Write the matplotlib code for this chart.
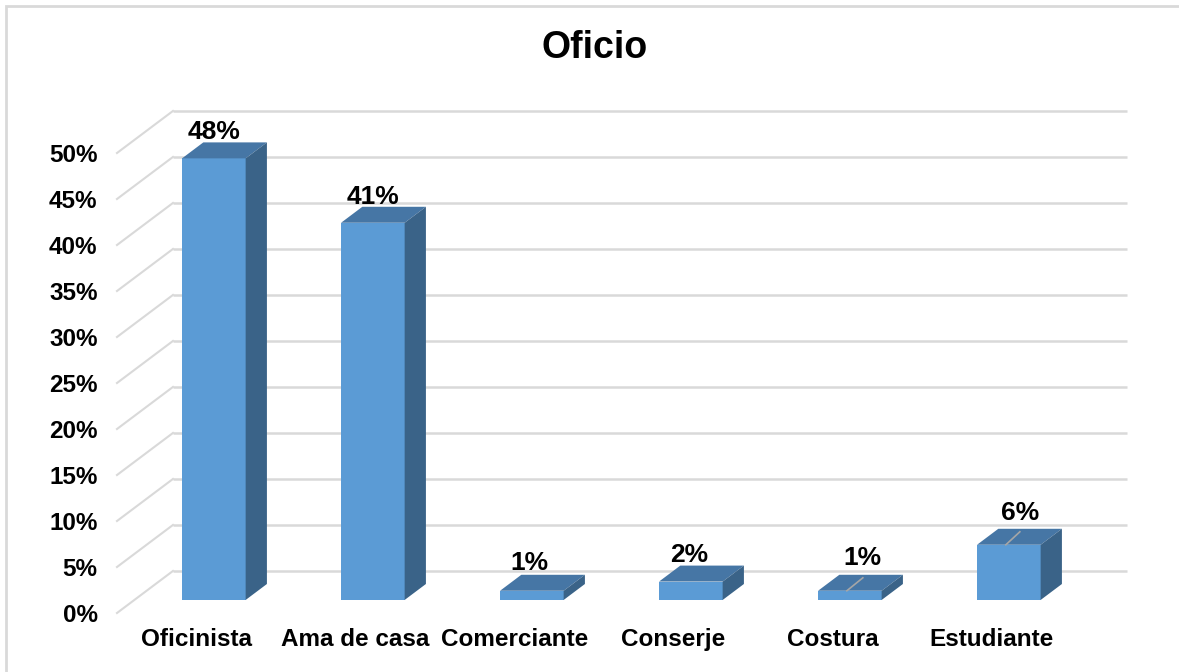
import matplotlib
matplotlib.use("Agg")
import matplotlib.pyplot as plt
from matplotlib.patches import Polygon, Rectangle
import numpy as np

plt.rcParams["font.family"] = ["Liberation Sans", "DejaVu Sans"]
plt.rcParams["font.weight"] = "bold"

# datos
oficios = ["Oficinista", "Ama de casa", "Comerciante", "Conserje", "Costura", "Estudiante"]
porcentajes = [48, 41, 1, 2, 1, 6]
ticks_y = [0, 5, 10, 15, 20, 25, 30, 35, 40, 45, 50]

# colores del efecto 3D
c_front = "#5b9bd5"
c_top = "#4676a5"
c_side = "#3a6388"
c_grid = "#d9d9d9"

# profundidad de la pared (unidades de categoria / porcentaje)
DX = 0.352
DY = 4.57
BAR_W = 0.40
F0, F1 = 0.31, 0.69  # tramo de profundidad ocupado por la barra
PX_X = 1 / 159   # un pixel en unidades de categoria
PX_Y = 1 / 9.2   # un pixel en unidades de porcentaje

fig = plt.figure(figsize=(11.79, 6.72), dpi=100)
ax = fig.add_axes([117 / 1179, 1 - 613 / 672, 954 / 1179, 460 / 672])
ax.set_xlim(0, len(oficios))
ax.set_ylim(0, 50)
for s in ax.spines.values():
    s.set_visible(False)
ax.tick_params(length=0)
ax.patch.set_alpha(0)

# pared del fondo y lateral
for v in ticks_y:
    ax.plot([DX, len(oficios) + DX], [v + DY, v + DY], color=c_grid, lw=1.8,
            clip_on=False, zorder=1, solid_capstyle="butt")
    ax.plot([0, DX], [v, v + DY], color=c_grid, lw=1.5, clip_on=False, zorder=1)

# barras 3D
for i, v in enumerate(porcentajes):
    x0 = i + 0.5 - BAR_W / 2 + F0 * DX
    y0 = F0 * DY
    ddx = (F1 - F0) * DX
    ddy = (F1 - F0) * DY
    front = Rectangle((x0, y0), BAR_W, v, facecolor=c_front, edgecolor="none",
                      clip_on=False, zorder=3)
    top = Polygon([(x0, y0 + v), (x0 + BAR_W, y0 + v),
                   (x0 + BAR_W + ddx, y0 + v + ddy), (x0 + ddx, y0 + v + ddy)],
                  closed=True, facecolor=c_top, edgecolor="none", clip_on=False, zorder=3)
    side = Polygon([(x0 + BAR_W, y0), (x0 + BAR_W + ddx, y0 + ddy),
                    (x0 + BAR_W + ddx, y0 + v + ddy), (x0 + BAR_W, y0 + v)],
                   closed=True, facecolor=c_side, edgecolor="none", clip_on=False, zorder=3)
    for p in (front, top, side):
        ax.add_patch(p)

# etiquetas de datos (desplazamiento en pixeles, algunas movidas a mano)
desplaz = [(0, 10), (0, 10), (-2, 12), (-2, 11), (13, 17), (11, 16)]
for i, v in enumerate(porcentajes):
    xc = i + 0.5 + F0 * DX
    yb = F1 * DY + v
    ox, oy = desplaz[i]
    ax.text(xc + ox * PX_X, yb + oy * PX_Y, f"{v}%", ha="center", va="center",
            fontsize=19, fontweight="bold", color="black", zorder=5, clip_on=False)
    if ox > 5:
        # linea guia hacia la barra
        ax.plot([xc - 3 * PX_X, xc + ox * PX_X], [F0 * DY + v, yb - 3 * PX_Y],
                color="#a6a6a6", lw=1.2, zorder=4, clip_on=False)

ax.set_yticks(ticks_y)
ax.set_yticklabels([f"{t}%" for t in ticks_y], fontsize=17.5, fontweight="bold")
ax.set_xticks(np.arange(len(oficios)) + 0.5)
ax.set_xticklabels(oficios, fontsize=17.5, fontweight="bold")
ax.tick_params(axis="y", pad=14)
ax.tick_params(axis="x", pad=11)

fig.text(595 / 1179, 1 - 48 / 672, "Oficio", ha="center", va="center",
         fontsize=27, fontweight="bold")

# borde del area del grafico
fig.patches.append(Rectangle((6 / 1179, -0.05), 1.1, 1 - 6 / 672 + 0.05,
                             transform=fig.transFigure, fill=False,
                             edgecolor=c_grid, lw=2))

fig.savefig("out.png", dpi=100)
